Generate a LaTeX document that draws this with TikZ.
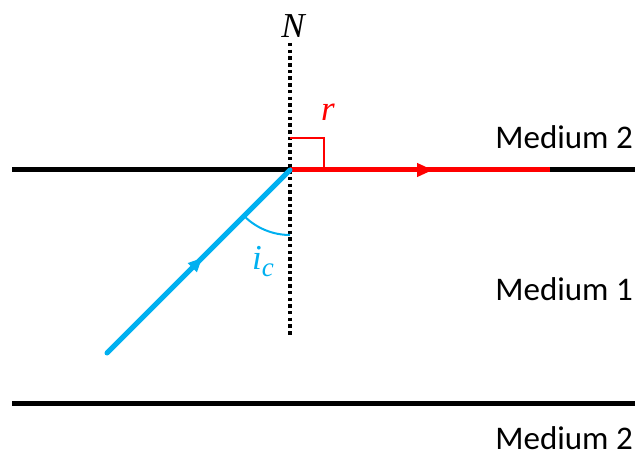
\documentclass[tikz,border=0pt]{standalone}
\usepackage{fontspec}
\setmainfont{Carlito}
\newfontfamily\symfont{Liberation Serif}
\usetikzlibrary{arrows.meta,decorations.markings}
\definecolor{rayblue}{RGB}{0,176,240}
\definecolor{rayred}{RGB}{255,0,0}
\tikzset{
  boundary/.style={line width=5pt,black},
  normalline/.style={line width=4pt,black,dash pattern=on 3.5pt off 3.2pt},
  incident/.style={line width=5pt,rayblue,
    postaction={decorate},
    decoration={markings,mark=at position 0.52 with {\arrow{Triangle[length=14pt,width=12pt]}}}},
  refracted/.style={line width=5pt,rayred,
    postaction={decorate},
    decoration={markings,mark=at position 0.55 with {\arrow{Triangle[length=16pt,width=13pt]}}}},
  medlabel/.style={anchor=east,inner sep=0pt,font=\fontsize{33}{40}\selectfont},
  mathlabel/.style={inner sep=0pt,font=\symfont\itshape\fontsize{35}{40}\selectfont}
}
\begin{document}
\begin{tikzpicture}[x=1pt,y=-1pt]
\useasboundingbox (0,0) rectangle (635,457);
\coordinate (O) at (290,170);
\coordinate (Lleft) at (12,170);
\coordinate (Lright) at (635,170);
\coordinate (Bleft) at (12,403);
\coordinate (Bright) at (635,403);
\coordinate (Ntop) at (290,43);
\coordinate (Nbot) at (290,337);
\coordinate (S) at (107,353);
\coordinate (Rend) at (550,170);
% boundaries
\draw[boundary] (Lleft) -- (Lright);
\draw[boundary] (Bleft) -- (Bright);
% normal
\draw[normalline] (Ntop) -- (Nbot);
% refracted ray
\draw[refracted] (O) -- (Rend);
% right angle
\coordinate (ra1) at (290,138);
\coordinate (ra2) at (324,138);
\coordinate (ra3) at (324,170);
\draw[rayred,line width=2.5pt] (ra1) -- (ra2) -- (ra3);
% incident ray
\draw[incident,line cap=round] (S) -- (O);
% angle arc
\draw[rayblue,line width=2pt] (O) ++(0,65) arc[start angle=90,end angle=135,radius=65];
% labels
\node[mathlabel] (N) at (293,26) {N};
\node[mathlabel,text=rayred] (r) at (328,112) {r};
\node[mathlabel,text=rayblue] (ic) at (263,262) {i\raisebox{-7pt}{\fontsize{27}{30}\selectfont c}};
\node[medlabel] (m2a) at (633,137) {Medium 2};
\node[medlabel] (m1) at (633,289) {Medium 1};
\node[medlabel] (m2b) at (633,438) {Medium 2};
\end{tikzpicture}
\end{document}
